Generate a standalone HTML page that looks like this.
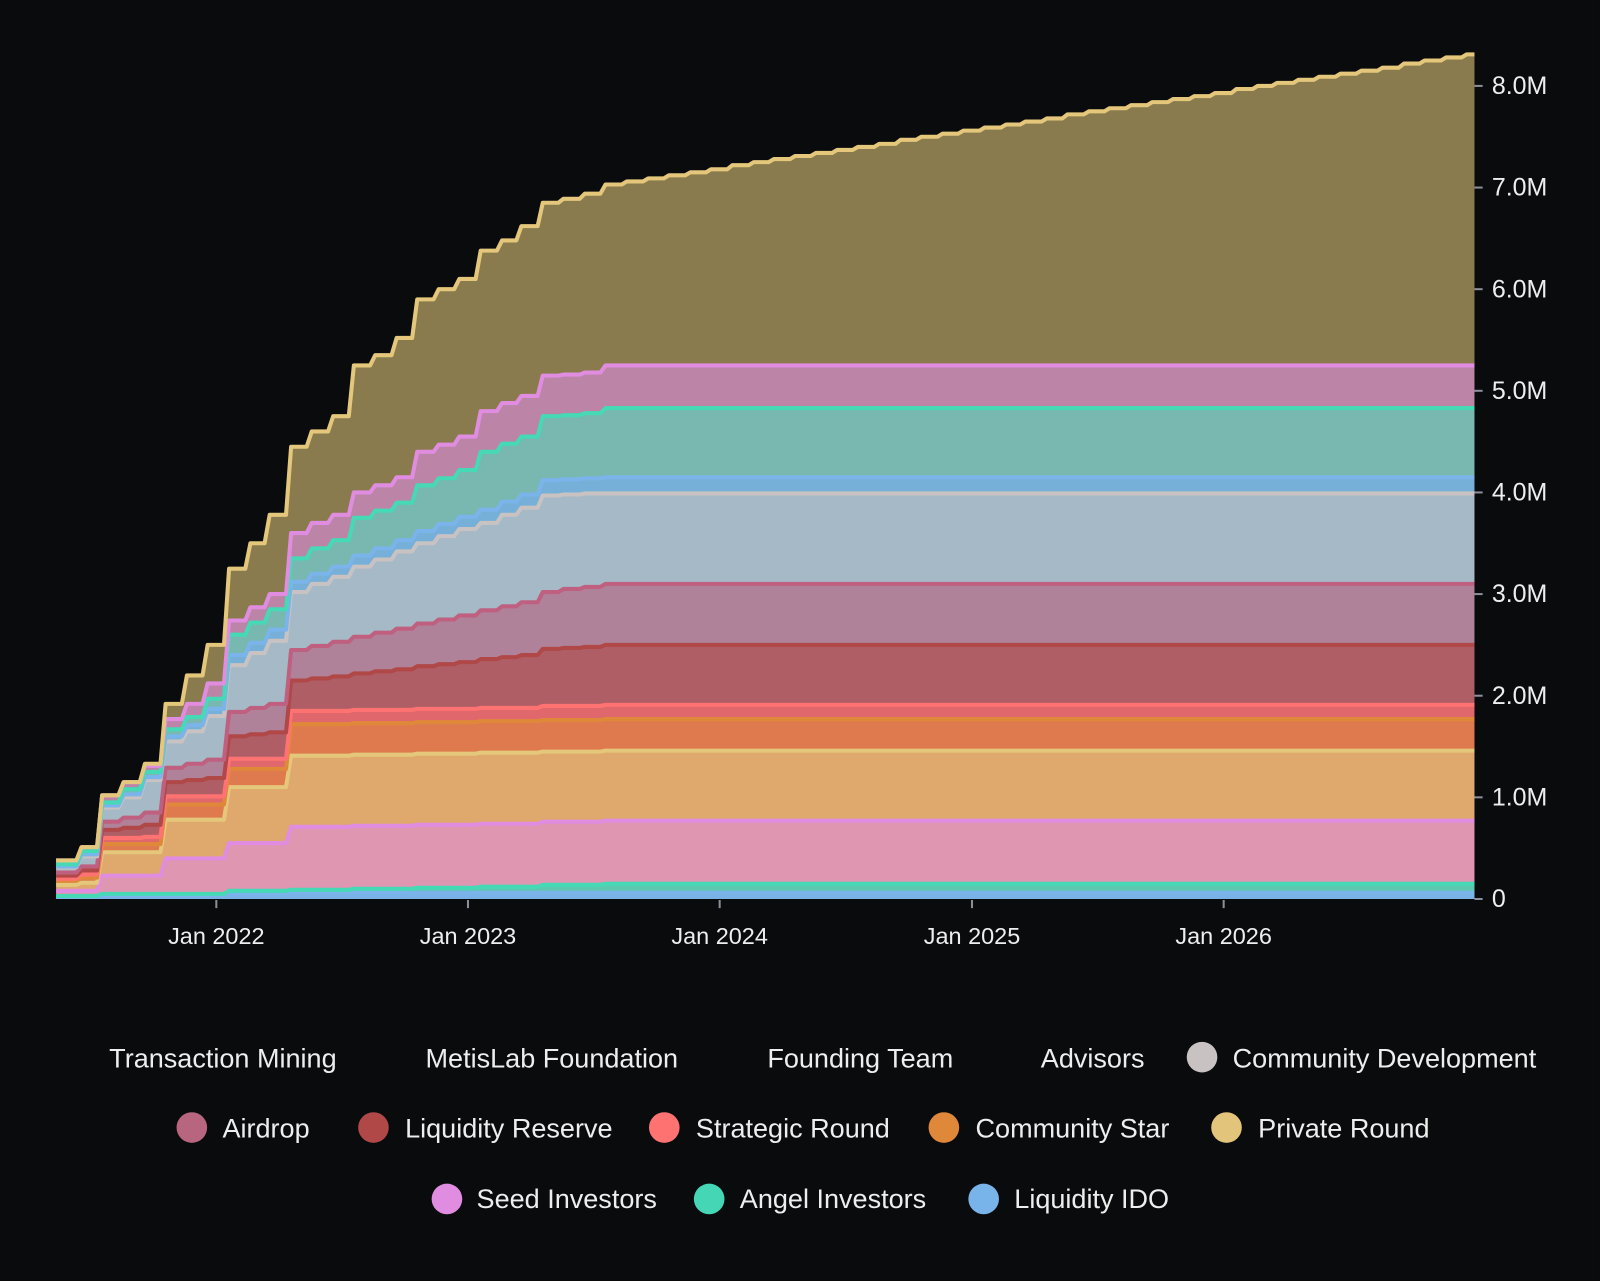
<!DOCTYPE html>
<html><head><meta charset="utf-8"><style>
html,body{margin:0;padding:0;background:#0a0b0d;overflow:hidden}
#outer{position:relative;width:1600px;height:1281px;background:#0a0b0d;overflow:hidden}
#wrap{position:absolute;left:0;top:0;width:1568px;height:1255px;background:#0a0b0d;font-family:"Liberation Sans","DejaVu Sans",sans-serif;color:#eaeaea;transform:scale(1.0204);transform-origin:0 0}
.leg{position:absolute;font-size:26.5px;color:#eeeeee;white-space:nowrap;line-height:30px}
.dot{position:absolute;width:30px;height:30px;border-radius:50%}
</style></head><body>
<div id="outer">
<div id="wrap">
<svg id="chart" width="1568" height="960" style="position:absolute;left:0;top:0"></svg>
<div>
<span class="leg" style="left:107px;top:1022px">Transaction Mining</span>
<span class="leg" style="left:417px;top:1022px">MetisLab Foundation</span>
<span class="leg" style="left:752px;top:1022px">Founding Team</span>
<span class="leg" style="left:1020px;top:1022px">Advisors</span>
<span class="dot" style="left:1163px;top:1021px;background:#c8c2c2"></span>
<span class="leg" style="left:1208px;top:1022px">Community Development</span>
<span class="dot" style="left:173px;top:1090px;background:#b86680"></span>
<span class="leg" style="left:218px;top:1091px">Airdrop</span>
<span class="dot" style="left:351px;top:1090px;background:#b04848"></span>
<span class="leg" style="left:397px;top:1091px">Liquidity Reserve</span>
<span class="dot" style="left:636px;top:1090px;background:#ff7272"></span>
<span class="leg" style="left:682px;top:1091px">Strategic Round</span>
<span class="dot" style="left:910px;top:1090px;background:#e0883a"></span>
<span class="leg" style="left:956px;top:1091px">Community Star</span>
<span class="dot" style="left:1187px;top:1090px;background:#e2c47a"></span>
<span class="leg" style="left:1233px;top:1091px">Private Round</span>
<span class="dot" style="left:423px;top:1160px;background:#e08ce0"></span>
<span class="leg" style="left:467px;top:1160px">Seed Investors</span>
<span class="dot" style="left:680px;top:1160px;background:#45d6b5"></span>
<span class="leg" style="left:725px;top:1160px">Angel Investors</span>
<span class="dot" style="left:949px;top:1160px;background:#78b4ea"></span>
<span class="leg" style="left:994px;top:1160px">Liquidity IDO</span>
</div>
</div>
</div>
<script>
// values in millions, one per monthly unlock (May 2021 .. Dec 2026)
const liquidityIDO = [0.02,0.02,0.04,0.04,0.04,0.04,0.04,0.04,0.06,0.06,0.06,0.06,0.06,0.06,0.06,0.06,0.06,0.06,0.06,0.06,0.06,0.06,0.06,0.06,0.06,0.06,0.06,0.06,0.06,0.06,0.06,0.06,0.06,0.06,0.06,0.06,0.06,0.06,0.06,0.06,0.06,0.06,0.06,0.06,0.06,0.06,0.06,0.06,0.06,0.06,0.06,0.06,0.06,0.06,0.06,0.06,0.06,0.06,0.06,0.06,0.06,0.06,0.06,0.06,0.06,0.06,0.06,0.06];
const angelInvestors = [0.01,0.01,0.01,0.01,0.01,0.01,0.01,0.01,0.02,0.02,0.02,0.03,0.03,0.03,0.04,0.04,0.04,0.05,0.05,0.05,0.06,0.06,0.06,0.08,0.08,0.08,0.09,0.09,0.09,0.09,0.09,0.09,0.09,0.09,0.09,0.09,0.09,0.09,0.09,0.09,0.09,0.09,0.09,0.09,0.09,0.09,0.09,0.09,0.09,0.09,0.09,0.09,0.09,0.09,0.09,0.09,0.09,0.09,0.09,0.09,0.09,0.09,0.09,0.09,0.09,0.09,0.09,0.09];
const seedInvestors = [0.05,0.05,0.18,0.18,0.18,0.35,0.35,0.35,0.47,0.47,0.47,0.62,0.62,0.62,0.62,0.62,0.62,0.62,0.62,0.62,0.62,0.62,0.62,0.62,0.62,0.62,0.62,0.62,0.62,0.62,0.62,0.62,0.62,0.62,0.62,0.62,0.62,0.62,0.62,0.62,0.62,0.62,0.62,0.62,0.62,0.62,0.62,0.62,0.62,0.62,0.62,0.62,0.62,0.62,0.62,0.62,0.62,0.62,0.62,0.62,0.62,0.62,0.62,0.62,0.62,0.62,0.62,0.62];
const privateRound = [0.06,0.08,0.23,0.23,0.23,0.38,0.38,0.38,0.55,0.55,0.55,0.70,0.70,0.70,0.70,0.70,0.70,0.70,0.70,0.70,0.70,0.70,0.70,0.69,0.69,0.69,0.69,0.69,0.69,0.69,0.69,0.69,0.69,0.69,0.69,0.69,0.69,0.69,0.69,0.69,0.69,0.69,0.69,0.69,0.69,0.69,0.69,0.69,0.69,0.69,0.69,0.69,0.69,0.69,0.69,0.69,0.69,0.69,0.69,0.69,0.69,0.69,0.69,0.69,0.69,0.69,0.69,0.69];
const communityStar = [0.04,0.05,0.08,0.08,0.08,0.15,0.15,0.15,0.18,0.18,0.18,0.31,0.31,0.31,0.31,0.31,0.31,0.31,0.31,0.31,0.31,0.31,0.31,0.31,0.31,0.31,0.31,0.31,0.31,0.31,0.31,0.31,0.31,0.31,0.31,0.31,0.31,0.31,0.31,0.31,0.31,0.31,0.31,0.31,0.31,0.31,0.31,0.31,0.31,0.31,0.31,0.31,0.31,0.31,0.31,0.31,0.31,0.31,0.31,0.31,0.31,0.31,0.31,0.31,0.31,0.31,0.31,0.31];
const strategicRound = [0.02,0.03,0.06,0.06,0.07,0.08,0.08,0.08,0.10,0.10,0.10,0.13,0.13,0.13,0.13,0.13,0.13,0.13,0.13,0.13,0.13,0.13,0.13,0.14,0.14,0.14,0.14,0.14,0.14,0.14,0.14,0.14,0.14,0.14,0.14,0.14,0.14,0.14,0.14,0.14,0.14,0.14,0.14,0.14,0.14,0.14,0.14,0.14,0.14,0.14,0.14,0.14,0.14,0.14,0.14,0.14,0.14,0.14,0.14,0.14,0.14,0.14,0.14,0.14,0.14,0.14,0.14,0.14];
const liquidityReserve = [0.03,0.04,0.08,0.10,0.12,0.14,0.16,0.18,0.22,0.24,0.26,0.30,0.32,0.34,0.36,0.38,0.40,0.42,0.44,0.46,0.48,0.50,0.52,0.56,0.57,0.58,0.59,0.59,0.59,0.59,0.59,0.59,0.59,0.59,0.59,0.59,0.59,0.59,0.59,0.59,0.59,0.59,0.59,0.59,0.59,0.59,0.59,0.59,0.59,0.59,0.59,0.59,0.59,0.59,0.59,0.59,0.59,0.59,0.59,0.59,0.59,0.59,0.59,0.59,0.59,0.59,0.59,0.59];
const airdrop = [0.03,0.04,0.08,0.10,0.12,0.14,0.16,0.18,0.24,0.26,0.28,0.30,0.32,0.34,0.36,0.38,0.40,0.42,0.44,0.46,0.48,0.50,0.52,0.56,0.58,0.59,0.60,0.60,0.60,0.60,0.60,0.60,0.60,0.60,0.60,0.60,0.60,0.60,0.60,0.60,0.60,0.60,0.60,0.60,0.60,0.60,0.60,0.60,0.60,0.60,0.60,0.60,0.60,0.60,0.60,0.60,0.60,0.60,0.60,0.60,0.60,0.60,0.60,0.60,0.60,0.60,0.60,0.60];
const communityDevelopment = [0.05,0.10,0.14,0.20,0.32,0.26,0.32,0.43,0.46,0.54,0.62,0.57,0.61,0.64,0.69,0.72,0.76,0.79,0.82,0.85,0.86,0.90,0.93,0.95,0.93,0.92,0.89,0.89,0.89,0.89,0.89,0.89,0.89,0.89,0.89,0.89,0.89,0.89,0.89,0.89,0.89,0.89,0.89,0.89,0.89,0.89,0.89,0.89,0.89,0.89,0.89,0.89,0.89,0.89,0.89,0.89,0.89,0.89,0.89,0.89,0.89,0.89,0.89,0.89,0.89,0.89,0.89,0.89];
const advisors = [0.01,0.02,0.02,0.03,0.03,0.05,0.06,0.07,0.10,0.10,0.11,0.10,0.10,0.10,0.11,0.11,0.11,0.12,0.12,0.12,0.13,0.13,0.13,0.15,0.15,0.15,0.16,0.16,0.16,0.16,0.16,0.16,0.16,0.16,0.16,0.16,0.16,0.16,0.16,0.16,0.16,0.16,0.16,0.16,0.16,0.16,0.16,0.16,0.16,0.16,0.16,0.16,0.16,0.16,0.16,0.16,0.16,0.16,0.16,0.16,0.16,0.16,0.16,0.16,0.16,0.16,0.16,0.16];
const foundingTeam = [0.02,0.03,0.03,0.05,0.05,0.07,0.08,0.10,0.20,0.20,0.20,0.23,0.25,0.26,0.37,0.37,0.37,0.45,0.45,0.46,0.57,0.57,0.57,0.63,0.63,0.64,0.68,0.68,0.68,0.68,0.68,0.68,0.68,0.68,0.68,0.68,0.68,0.68,0.68,0.68,0.68,0.68,0.68,0.68,0.68,0.68,0.68,0.68,0.68,0.68,0.68,0.68,0.68,0.68,0.68,0.68,0.68,0.68,0.68,0.68,0.68,0.68,0.68,0.68,0.68,0.68,0.68,0.68];
const metisLabFoundation = [0.04,0.04,0.07,0.07,0.06,0.10,0.13,0.15,0.14,0.15,0.15,0.25,0.25,0.25,0.25,0.25,0.25,0.33,0.33,0.33,0.40,0.40,0.40,0.40,0.40,0.40,0.42,0.42,0.42,0.42,0.42,0.42,0.42,0.42,0.42,0.42,0.42,0.42,0.42,0.42,0.42,0.42,0.42,0.42,0.42,0.42,0.42,0.42,0.42,0.42,0.42,0.42,0.42,0.42,0.42,0.42,0.42,0.42,0.42,0.42,0.42,0.42,0.42,0.42,0.42,0.42,0.42,0.42];
const transactionMining = [0,0,0,0,0.02,0.15,0.28,0.38,0.51,0.63,0.78,0.85,0.90,0.97,1.25,1.28,1.37,1.50,1.53,1.55,1.58,1.60,1.67,1.70,1.73,1.76,1.78,1.81,1.84,1.87,1.90,1.93,1.97,2.00,2.03,2.06,2.09,2.12,2.15,2.18,2.22,2.25,2.28,2.31,2.34,2.37,2.40,2.43,2.47,2.50,2.53,2.56,2.59,2.62,2.65,2.68,2.72,2.75,2.78,2.81,2.84,2.87,2.90,2.93,2.97,3.00,3.03,3.06];
const yTickLabels = ["0","1.0M","2.0M","3.0M","4.0M","5.0M","6.0M","7.0M","8.0M"];
const yTickValues = [0,1,2,3,4,5,6,7,8];
const xTickLabels = ["Jan 2022","Jan 2023","Jan 2024","Jan 2025","Jan 2026"];
const xTickYears = [2022,2023,2024,2025,2026];

const months = [];
for (let k = 0; k < transactionMining.length; k++) {
  months.push(new Date(Date.UTC(2021, 4 + k, 15)));
}
const series = [
  {name:'liquidity-ido', v:liquidityIDO, fill:'#78b2e6', stroke:'#7ab4ea'},
  {name:'angel-investors', v:angelInvestors, fill:'#5cc8b0', stroke:'#45d9b5'},
  {name:'seed-investors', v:seedInvestors, fill:'#df96b0', stroke:'#e08ce0'},
  {name:'private-round', v:privateRound, fill:'#dfa86c', stroke:'#e4c77a'},
  {name:'community-star', v:communityStar, fill:'#df7a4e', stroke:'#e0883a'},
  {name:'strategic-round', v:strategicRound, fill:'#e0686c', stroke:'#ff7272'},
  {name:'liquidity-reserve', v:liquidityReserve, fill:'#b05e66', stroke:'#b04848'},
  {name:'airdrop', v:airdrop, fill:'#af8299', stroke:'#c06080'},
  {name:'community-development', v:communityDevelopment, fill:'#a5b9c6', stroke:'#c8c2c2'},
  {name:'advisors', v:advisors, fill:'#76b0d8', stroke:'#7ab4ea'},
  {name:'founding-team', v:foundingTeam, fill:'#79b8b0', stroke:'#45d9b5'},
  {name:'metislab-foundation', v:metisLabFoundation, fill:'#bc84a6', stroke:'#e08ce0'},
  {name:'transaction-mining', v:transactionMining, fill:'#8a7b4e', stroke:'#e4c77a'}
];
const X0 = 55, X1 = 1445, Y0 = 881, PXM = 99.6;
const jan22 = Date.UTC(2022,0,1), yearMs = 365.25*864e5, pxYear = 246.8;
function xScale(d){ return 212 + (d - jan22)/yearMs*pxYear; }
function yScale(v){ return Y0 - v*PXM; }
const NS = 'http://www.w3.org/2000/svg';
const svg = document.getElementById('chart');
function mk(tag, attrs){ const e = document.createElementNS(NS, tag); for (const k in attrs) e.setAttribute(k, attrs[k]); return e; }

const cum = [];
let prev = months.map(() => 0);
series.forEach(s => { const c = s.v.map((v,i) => prev[i] + v); cum.push({lo:prev, hi:c}); prev = c; });

function stepPts(arr){
  const pts = [];
  for (let i = 0; i < arr.length; i++) {
    if (i === 0) { pts.push([X0, yScale(arr[0])]); continue; }
    const xs = xScale(months[i]) - 2;
    const xe = xScale(months[i]) + 3;
    pts.push([xs, yScale(arr[i-1])]); pts.push([xe, yScale(arr[i])]);
  }
  pts.push([X1, yScale(arr[arr.length-1])]);
  return pts;
}
const gFill = mk('g', {});   svg.appendChild(gFill);
const gLine = mk('g', {});   svg.appendChild(gLine);
series.forEach((s, si) => {
  const top = stepPts(cum[si].hi), bot = stepPts(cum[si].lo).reverse();
  const d = 'M' + top.concat(bot).map(p => p[0].toFixed(1)+','+p[1].toFixed(1)).join('L') + 'Z';
  const area = mk('path', {d:d, fill:s.fill});
  
  
  gFill.appendChild(area);
  const ld = 'M' + top.map(p => p[0].toFixed(1)+','+p[1].toFixed(1)).join('L');
  const line = mk('path', {d:ld, fill:'none', stroke:s.stroke, 'stroke-width':4, 'stroke-linejoin':'round'});
  
  
  gLine.appendChild(line);
});
yTickValues.forEach((v, i) => {
  const y = yScale(v);
  const t = mk('line', {x1:X1, x2:X1+8, y1:y, y2:y, stroke:'#8a8f99', 'stroke-width':2});
  
  
  svg.appendChild(t);
  const tx = mk('text', {x:X1+17, y:y+8, fill:'#eeeeee', 'font-size':24.5, 'font-family':'Liberation Sans, sans-serif'});
  tx.textContent = yTickLabels[i];
  
  
  svg.appendChild(tx);
});
xTickYears.forEach((yr, i) => {
  const x = xScale(Date.UTC(yr,0,1));
  const t = mk('line', {x1:x, x2:x, y1:Y0+1, y2:Y0+9, stroke:'#8a8f99', 'stroke-width':2});
  
  
  svg.appendChild(t);
  const tx = mk('text', {x:x, y:Y0+44, fill:'#eeeeee', 'font-size':23, 'text-anchor':'middle', 'font-family':'Liberation Sans, sans-serif'});
  tx.textContent = xTickLabels[i];
  
  
  svg.appendChild(tx);
});
</script>
</body></html>
